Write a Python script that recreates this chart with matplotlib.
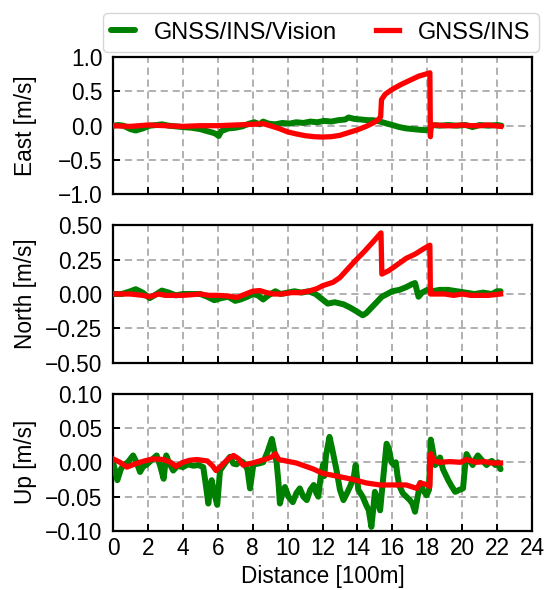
import matplotlib
matplotlib.use("Agg")
import matplotlib.pyplot as plt
import numpy as np

plt.rcParams['font.family'] = ['Liberation Sans', 'DejaVu Sans']
plt.rcParams['font.size'] = 16.3
plt.rcParams['axes.unicode_minus'] = True

# ---------------- data (distance in 100 m, velocity error in m/s) ----------------
east_vis_x = [0, 0.3, 0.6, 1.0, 1.3, 1.7, 2.1, 2.5, 2.8, 3.2, 3.6, 4.0, 4.5, 5.0, 5.4, 5.7, 5.9, 6.05, 6.2, 6.6,
              7.0, 7.4, 7.8, 8.1, 8.4, 8.6, 8.9, 9.3, 9.7, 10.1, 10.5, 10.9, 11.3, 11.7, 12.1, 12.5, 12.9, 13.3,
              13.5, 13.8, 14.2, 14.6, 14.9, 15.3, 15.7, 16.0, 16.4, 16.8, 17.2, 17.6, 17.9, 18.15, 18.3, 18.7,
              19.2, 19.7, 20.2, 20.6, 21.0, 21.5, 22.0, 22.25]
east_vis_y = [0.0, 0.01, 0.0, -0.05, -0.07, -0.04, 0.0, 0.01, 0.02, 0.0, -0.01, -0.02, -0.03, -0.05, -0.08, -0.1,
              -0.12, -0.15, -0.08, -0.04, -0.03, -0.01, 0.03, 0.05, 0.02, 0.06, 0.03, 0.02, 0.04, 0.03, 0.05, 0.04,
              0.06, 0.05, 0.07, 0.06, 0.08, 0.09, 0.12, 0.1, 0.09, 0.08, 0.08, 0.06, 0.03, 0.01, -0.02, -0.04,
              -0.05, -0.06, -0.065, -0.05, 0.01, 0.0, 0.01, 0.0, 0.01, -0.02, 0.01, 0.0, 0.01, 0.0]

east_ins_x = [0, 1, 2, 3, 4, 5, 6, 7, 8, 8.6, 9.0, 9.5, 10.0, 10.5, 11.0, 11.5, 12.0, 12.5, 13.0, 13.5, 14.0,
              14.5, 14.9, 15.2, 15.33, 15.38, 15.6, 16.0, 16.5, 17.0, 17.5, 17.9, 18.15, 18.18, 18.22, 18.5,
              19.0, 19.5, 20.0, 20.5, 21.0, 21.5, 22.2]
east_ins_y = [0.0, -0.01, 0.01, 0.0, -0.01, 0.0, 0.0, 0.01, 0.02, 0.03, 0.0, -0.04, -0.09, -0.12, -0.145, -0.16,
              -0.165, -0.16, -0.14, -0.1, -0.06, -0.01, 0.04, 0.09, 0.13, 0.38, 0.46, 0.53, 0.6, 0.66, 0.72, 0.75,
              0.77, -0.16, 0.0, 0.01, 0.0, 0.0, 0.01, 0.0, 0.0, 0.01, -0.01]

north_vis_x = [0, 0.5, 1.0, 1.3, 1.7, 2.1, 2.5, 2.8, 3.2, 3.6, 4.0, 4.5, 5.0, 5.4, 5.8, 6.2, 6.6, 7.0, 7.3, 7.7,
               8.0, 8.3, 8.6, 8.9, 9.3, 9.6, 10.0, 10.4, 10.8, 11.2, 11.6, 12.0, 12.3, 12.7, 13.2, 13.6, 14.0,
               14.3, 14.5, 14.8, 15.1, 15.4, 15.7, 16.0, 16.4, 16.8, 17.1, 17.3, 17.5, 17.7, 18.0, 18.3, 18.7,
               19.2, 19.7, 20.2, 20.7, 21.2, 21.7, 22.0, 22.2]
north_vis_y = [0.0, 0.0, 0.02, 0.035, 0.01, -0.03, 0.0, 0.025, 0.01, -0.01, 0.0, 0.0, 0.0, -0.02, -0.045, -0.03,
               -0.02, -0.05, -0.04, -0.02, 0.0, -0.01, -0.04, -0.01, 0.02, 0.0, 0.01, 0.02, 0.01, 0.02, 0.0, -0.04,
               -0.07, -0.06, -0.075, -0.1, -0.13, -0.155, -0.14, -0.1, -0.06, -0.02, 0.0, 0.02, 0.03, 0.05, 0.07,
               0.08, -0.02, 0.01, 0.03, 0.02, 0.03, 0.03, 0.02, 0.01, 0.0, 0.01, 0.0, 0.02, 0.02]

north_ins_x = [0, 1, 1.7, 2.1, 2.6, 3.0, 4, 5, 5.5, 6, 6.6, 7.1, 7.6, 8.0, 8.4, 8.8, 9.2, 9.7, 10.2, 10.7, 11.2,
               11.7, 12.0, 12.6, 13.0, 13.5, 13.9, 14.4, 14.9, 15.35, 15.4, 15.8, 16.3, 16.8, 17.3, 17.8, 18.15,
               18.18, 18.5, 19, 19.5, 20, 20.5, 21, 21.5, 22.2]
north_ins_y = [0.0, 0.0, -0.01, -0.02, 0.0, -0.01, -0.01, 0.0, -0.01, -0.01, -0.015, -0.025, 0.0, 0.02, 0.025,
               0.01, 0.0, 0.0, 0.01, 0.01, 0.02, 0.04, 0.06, 0.085, 0.12, 0.19, 0.245, 0.31, 0.38, 0.445, 0.145,
               0.17, 0.215, 0.26, 0.29, 0.33, 0.355, 0.0, 0.0, 0.0, -0.01, 0.0, -0.01, -0.01, -0.01, 0.0]

up_vis_x = [0, 0.1, 0.25, 0.45, 0.6, 0.85, 1.15, 1.35, 1.55, 1.75, 1.9, 2.2, 2.5, 2.7, 2.9, 3.05, 3.2, 3.45, 3.7,
            4.0, 4.3, 4.6, 4.9, 5.17, 5.3, 5.46, 5.55, 5.65, 5.8, 5.97, 6.13, 6.4, 6.7, 6.9, 7.08, 7.3, 7.46, 7.7,
            7.85, 8.04, 8.3, 8.6, 8.85, 9.1, 9.25, 9.37, 9.48, 9.56, 9.7, 9.85, 10.05, 10.3, 10.5, 10.7, 10.9,
            11.1, 11.3, 11.5, 11.65, 11.76, 11.9, 12.04, 12.1, 12.2, 12.4, 12.55, 12.8, 13.0, 13.2, 13.4, 13.6,
            13.8, 13.9, 14.05, 14.3, 14.5, 14.65, 14.8, 14.9, 15.0, 15.15, 15.3, 15.45, 15.67, 15.8, 15.95, 16.1,
            16.2, 16.3, 16.4, 16.6, 16.8, 17.0, 17.15, 17.3, 17.45, 17.6, 17.75, 17.96, 18.1, 18.2, 18.3, 18.45,
            18.6, 18.73, 18.9, 19.2, 19.4, 19.6, 19.85, 20.05, 20.15, 20.25, 20.4, 20.6, 20.75, 20.9, 21.1, 21.4,
            21.55, 21.7, 21.9, 22.05, 22.2]
up_vis_y = [0.0, -0.01, -0.026, -0.01, -0.004, 0.0, 0.01, 0.0, -0.014, -0.005, -0.004, 0.003, 0.01, -0.005,
            -0.024, 0.01, 0.0, -0.012, -0.005, -0.007, -0.003, -0.005, -0.004, -0.007, -0.03, -0.06, -0.04,
            -0.026, -0.045, -0.062, -0.012, -0.002, 0.008, -0.002, -0.003, 0.002, 0.0, -0.01, -0.038, -0.003,
            -0.002, 0.0, 0.015, 0.034, 0.015, 0.0, -0.03, -0.06, -0.045, -0.036, -0.05, -0.058, -0.045, -0.038,
            -0.05, -0.055, -0.04, -0.033, -0.045, -0.05, -0.02, -0.003, -0.02, 0.01, 0.037, 0.02, -0.011, -0.04,
            -0.055, -0.045, -0.034, -0.02, -0.004, -0.04, -0.05, -0.062, -0.07, -0.094, -0.07, -0.043, -0.055,
            -0.07, -0.03, 0.027, 0.02, 0.0, -0.004, 0.0, -0.02, -0.034, -0.045, -0.05, -0.055, -0.06, -0.072,
            -0.05, -0.03, -0.04, -0.048, -0.04, 0.033, 0.02, -0.004, 0.0, 0.007, -0.01, -0.026, -0.035, -0.043,
            -0.04, -0.038, -0.01, 0.012, 0.005, -0.004, 0.004, 0.01, 0.004, -0.004, 0.0, 0.002, -0.004, 0.0, -0.01]

up_ins_x = [0, 0.4, 0.8, 1.3, 1.8, 2.3, 2.9, 3.3, 3.6, 4.0, 4.4, 4.8, 5.4, 5.7, 5.9, 6.2, 6.6, 6.9, 7.2, 7.45, 8.0,
            8.4, 8.8, 9.1, 9.3, 9.5, 10.5, 11.5, 12.0, 12.8, 13.76, 14.5, 15.3, 16.0, 16.8, 17.4, 17.6, 17.9,
            18.15, 18.2, 18.4, 18.7, 19.3, 19.9, 20.25, 20.8, 21.3, 21.7, 22.2]
up_ins_y = [0.005, 0.0, -0.007, -0.002, 0.002, 0.005, 0.004, 0.0, -0.006, 0.0, 0.003, 0.004, 0.002, -0.005,
            -0.012, -0.005, 0.005, 0.01, 0.005, -0.004, -0.001, 0.002, 0.005, 0.008, 0.0125, 0.004, -0.001, -0.01,
            -0.016, -0.02, -0.025, -0.03, -0.033, -0.033, -0.033, -0.038, -0.03, -0.032, -0.035, 0.0125, 0.002,
            0.0, 0.001, 0.0, 0.004, 0.0, 0.001, -0.001, -0.001]

labels = ["GNSS/INS/Vision", "GNSS/INS"]
ylabels = ["East [m/s]", "North [m/s]", "Up [m/s]"]
ylims = [(-1.0, 1.0), (-0.5, 0.5), (-0.1, 0.1)]
yticks = [[-1.0, -0.5, 0.0, 0.5, 1.0], [-0.5, -0.25, 0.0, 0.25, 0.5], [-0.1, -0.05, 0.0, 0.05, 0.1]]
yfmt = ["%.1f", "%.2f", "%.2f"]
xticks = list(range(0, 25, 2))

series = [(east_vis_x, east_vis_y, east_ins_x, east_ins_y),
          (north_vis_x, north_vis_y, north_ins_x, north_ins_y),
          (up_vis_x, up_vis_y, up_ins_x, up_ins_y)]

fig, axes = plt.subplots(3, 1, figsize=(5.45, 5.9), dpi=100, sharex=True)
fig.subplots_adjust(left=113 / 545, right=532 / 545, top=1 - 57 / 590, bottom=1 - 531 / 590, hspace=0.225)

for i, ax in enumerate(axes):
    vx, vy, ix, iy = series[i]
    lv, = ax.plot(vx, vy, color='green', lw=4.3, solid_joinstyle='round', solid_capstyle='round',
                  label=labels[0], zorder=3)
    li, = ax.plot(ix, iy, color='red', lw=3.8, solid_joinstyle='round', label=labels[1], zorder=4)
    ax.set_xlim(0, 24)
    ax.set_ylim(*ylims[i])
    ax.set_yticks(yticks[i])
    ax.set_yticklabels([(yfmt[i] % v).replace('-', '\u2212') for v in yticks[i]])
    ax.set_xticks(xticks)
    ax.grid(True, color='#aaaaaa', lw=1.3, dashes=(4, 2.6))
    ax.set_axisbelow(True)
    ax.tick_params(direction='in', length=5, width=1.4, color='black')
    ax.tick_params(axis='y', pad=7.5)
    ax.tick_params(axis='x', pad=4)
    for s in ax.spines.values():
        s.set_linewidth(1.6)
    ax.set_ylabel(ylabels[i], labelpad=6)
    if i == 0:
        handles = [lv, li]

axes[-1].set_xlabel("Distance [100m]", labelpad=4)
fig.align_ylabels(axes)

leg = fig.legend(handles, labels, loc='lower right', bbox_to_anchor=(539 / 545, 1 - 52 / 590), ncol=2,
                 handlelength=1.0, columnspacing=1.65, handletextpad=0.8, frameon=True, fancybox=True,
                 borderaxespad=0.0, borderpad=0.35, fontsize=17)
leg.get_frame().set_edgecolor('#cccccc')
leg.get_frame().set_linewidth(1.0)

fig.savefig("out.png", dpi=100)
